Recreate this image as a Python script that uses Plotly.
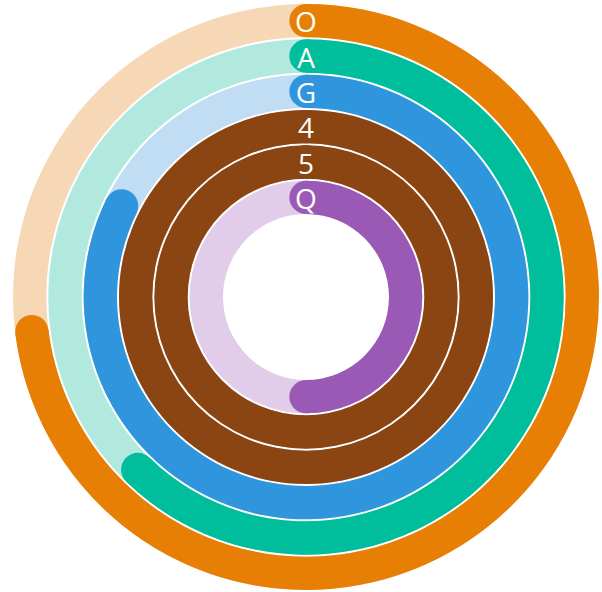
import plotly.graph_objects as go

labels = ["O", "A", "G", "4", "5", "Q"]
values = [0.73, 0.623, 0.823, 1.0, 1.0, 0.5]
colors = ["#E77F05", "#00BE9B", "#2F96DD", "#8B4513", "#8B4513", "#9B59B6"]
track_colors = ["#F6D8B6", "#B2E9DF", "#C0DDF3", "#DCC6B6", "#DCC6B6", "#E1CCE9"]

R_OUT = 294.0
R_IN = 82.0
n = len(labels)
pitch = (R_OUT - R_IN) / n
gap = 2.0
thick = pitch - gap
text_shift = 4.5  # px toward centre so glyphs sit centred in the ring

fig = go.Figure()

for i, (lab, v, c, tc) in enumerate(zip(labels, values, colors, track_colors)):
    base = R_OUT - (i + 1) * pitch + gap / 2
    mid = base + thick / 2
    # background track
    fig.add_trace(go.Barpolar(theta=[180], r=[thick], base=[base], width=[360],
                              marker=dict(color=tc, line=dict(width=0)),
                              hoverinfo="skip", showlegend=False))
    # progress arc
    span = v * 360
    fig.add_trace(go.Barpolar(theta=[span / 2], r=[thick], base=[base], width=[span],
                              marker=dict(color=c, line=dict(width=0)),
                              hoverinfo="skip", showlegend=False))
    # round caps
    fig.add_trace(go.Scatterpolar(theta=[span, 0], r=[mid, mid], mode="markers",
                                  marker=dict(color=c, size=thick, line=dict(width=0)),
                                  hoverinfo="skip", showlegend=False))

mids = [R_OUT - (i + 1) * pitch + gap / 2 + thick / 2 - text_shift for i in range(n)]
fig.add_trace(go.Scatterpolar(theta=[0] * n, r=mids, mode="text", text=labels,
                              textposition="middle center", cliponaxis=False,
                              textfont=dict(color="white", size=28, family="Open Sans"),
                              hoverinfo="skip", showlegend=False))

fig.update_layout(
    width=602, height=592,
    margin=dict(l=12, r=2, t=3, b=1),
    paper_bgcolor="white", plot_bgcolor="white",
    showlegend=False,
    polar=dict(
        domain=dict(x=[0, 1], y=[0, 1]),
        bgcolor="white",
        barmode="overlay",
        hole=0,
        radialaxis=dict(visible=False, range=[0, R_OUT], showgrid=False),
        angularaxis=dict(visible=False, rotation=90, direction="clockwise", showgrid=False),
    ),
)

fig.write_html("out.html", config={"displayModeBar": False},
               post_script="document.body.style.margin='0';")
